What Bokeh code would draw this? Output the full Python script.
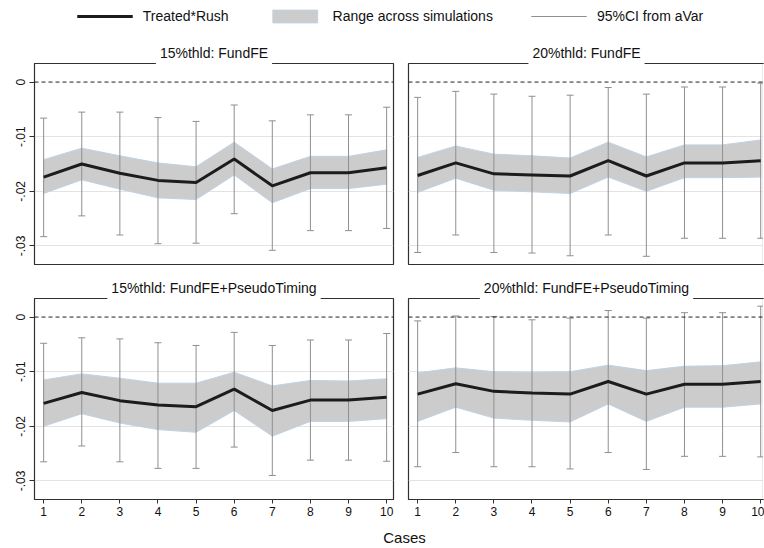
from bokeh.plotting import figure
from bokeh.layouts import column, row
from bokeh.models import (ColumnDataSource, Range1d, FixedTicker, Grid, Span,
                          Label, Legend, LegendItem, Title)
from bokeh.embed import file_html
from bokeh.resources import INLINE

# ---------------- data ----------------
cases = [1, 2, 3, 4, 5, 6, 7, 8, 9, 10]
x_tick_labels = ["1", "2", "3", "4", "5", "6", "7", "8", "9", "10"]
y_ticks = [0, -0.01, -0.02, -0.03]
y_tick_labels = ["0", "-.01", "-.02", "-.03"]
grid_ticks = [-0.01, -0.02, -0.03]
zero_ref = 0
x_axis_title = "Cases"

titles = ["15%thld: FundFE", "20%thld: FundFE",
          "15%thld: FundFE+PseudoTiming", "20%thld: FundFE+PseudoTiming"]
legend_labels = ["Treated*Rush", "Range across simulations", "95%CI from aVar"]

tl_mean = [-0.0174, -0.0150, -0.0167, -0.0180, -0.0184, -0.0141, -0.0190, -0.0166, -0.0166, -0.0157]
tl_bhi = [-0.0142, -0.0121, -0.0135, -0.0148, -0.0155, -0.0110, -0.0159, -0.0136, -0.0136, -0.0124]
tl_blo = [-0.0204, -0.0179, -0.0196, -0.0212, -0.0215, -0.0170, -0.0221, -0.0195, -0.0195, -0.0187]
tl_chi = [-0.0066, -0.0055, -0.0055, -0.0065, -0.0072, -0.0042, -0.0071, -0.0060, -0.0060, -0.0046]
tl_clo = [-0.0283, -0.0245, -0.0280, -0.0296, -0.0295, -0.0241, -0.0308, -0.0272, -0.0272, -0.0268]

tr_mean = [-0.0171, -0.0148, -0.0168, -0.0170, -0.0172, -0.0144, -0.0172, -0.0148, -0.0148, -0.0144]
tr_bhi = [-0.0138, -0.0117, -0.0132, -0.0135, -0.0139, -0.0110, -0.0137, -0.0115, -0.0115, -0.0106]
tr_blo = [-0.0202, -0.0176, -0.0198, -0.0201, -0.0204, -0.0174, -0.0200, -0.0175, -0.0175, -0.0174]
tr_chi = [-0.0028, -0.0017, -0.0022, -0.0026, -0.0024, -0.0010, -0.0022, -0.0009, -0.0009, -0.0002]
tr_clo = [-0.0312, -0.0280, -0.0312, -0.0313, -0.0318, -0.0280, -0.0319, -0.0286, -0.0286, -0.0286]

bl_mean = [-0.0158, -0.0138, -0.0153, -0.0161, -0.0164, -0.0132, -0.0171, -0.0152, -0.0152, -0.0147]
bl_bhi = [-0.0115, -0.0104, -0.0112, -0.0121, -0.0121, -0.0101, -0.0126, -0.0116, -0.0117, -0.0113]
bl_blo = [-0.0200, -0.0177, -0.0194, -0.0206, -0.0211, -0.0171, -0.0218, -0.0191, -0.0191, -0.0186]
bl_chi = [-0.0048, -0.0038, -0.0040, -0.0047, -0.0052, -0.0028, -0.0052, -0.0042, -0.0042, -0.0030]
bl_clo = [-0.0265, -0.0236, -0.0265, -0.0277, -0.0277, -0.0238, -0.0290, -0.0262, -0.0262, -0.0264]

br_mean = [-0.0141, -0.0122, -0.0136, -0.0139, -0.0141, -0.0118, -0.0141, -0.0123, -0.0123, -0.0118]
br_bhi = [-0.0102, -0.0093, -0.0100, -0.0101, -0.0100, -0.0088, -0.0098, -0.0090, -0.0089, -0.0082]
br_blo = [-0.0191, -0.0165, -0.0185, -0.0189, -0.0192, -0.0159, -0.0191, -0.0165, -0.0165, -0.0159]
br_chi = [-0.0007, 0.0002, 0.0001, -0.0005, -0.0002, 0.0012, -0.0002, 0.0008, 0.0008, 0.0020]
br_clo = [-0.0274, -0.0248, -0.0274, -0.0274, -0.0278, -0.0248, -0.0279, -0.0255, -0.0255, -0.0256]

# ---------------- styles ----------------
FONT = "Liberation Sans"
MEAN_COLOR = "#1c1c1c"
BAND_FILL = "#cccccc"
BAND_EDGE = "#bfd2e6"
CI_COLOR = "#8f8f8f"
FRAME_COLOR = "#303030"
Y_RANGE = (-0.0334, 0.0034)


def make_panel(title, mean, bhi, blo, chi, clo, left, bottom):
    x_end = 10.18 if left else 10.10
    fw = 359 if left else 356
    p = figure(frame_width=fw, frame_height=201,
               x_range=Range1d(0.76, x_end), y_range=Range1d(*Y_RANGE),
               output_backend="svg", toolbar_location=None,
               x_axis_location="below" if bottom else None,
               y_axis_location="left" if left else None,
               min_border_left=34 if left else 8,
               min_border_right=7 if left else 0,
               min_border_top=31 if not bottom else 24,
               min_border_bottom=10 if not bottom else 24)
    for g in p.grid:
        g.visible = False
    p.background_fill_color = "white"
    p.border_fill_color = "white"
    p.outline_line_color = FRAME_COLOR
    p.outline_line_width = 1.2

    p.add_layout(Grid(dimension=1, ticker=FixedTicker(ticks=grid_ticks),
                      grid_line_color="#e3e3e3", grid_line_width=1))

    src = ColumnDataSource(dict(x=cases, mean=mean, bhi=bhi, blo=blo, chi=chi, clo=clo))
    px = list(cases) + list(cases)[::-1]
    py = list(bhi) + list(blo)[::-1]
    p.patch(px, py, fill_color=BAND_FILL, line_color=BAND_EDGE, line_width=1)
    p.segment(x0="x", y0="clo", x1="x", y1="chi", source=src, line_color=CI_COLOR, line_width=1)
    p.scatter(x="x", y="chi", source=src, marker="dash", size=7, line_color=CI_COLOR, line_width=1)
    p.scatter(x="x", y="clo", source=src, marker="dash", size=7, line_color=CI_COLOR, line_width=1)
    p.add_layout(Span(location=zero_ref, dimension="width", line_color="#222222",
                      line_dash="4 3", line_width=1))
    p.line(x="x", y="mean", source=src, line_color=MEAN_COLOR, line_width=3)

    if not left:
        # the right-hand panels are cut off by the picture edge: hide their right border
        p.add_layout(Span(location=x_end, dimension="height", line_color="white",
                          line_width=3))

    if left:
        ax = p.yaxis[0]
        ax.ticker = FixedTicker(ticks=y_ticks)
        ax.major_label_overrides = {t: l for t, l in zip(y_ticks, y_tick_labels)}
        ax.major_label_orientation = "vertical"
        ax.minor_tick_line_color = None
        ax.major_tick_out = 5
        ax.major_tick_in = 0
        ax.major_label_standoff = 4
        ax.axis_line_color = FRAME_COLOR
        ax.major_tick_line_color = FRAME_COLOR
        ax.major_label_text_font = FONT
        ax.major_label_text_font_size = "12px"
        ax.major_label_text_color = "#111111"
    if bottom:
        ax = p.xaxis[0]
        ax.ticker = FixedTicker(ticks=cases)
        ax.major_label_overrides = {c: l for c, l in zip(cases, x_tick_labels)}
        ax.minor_tick_line_color = None
        ax.major_tick_out = 4
        ax.major_tick_in = 0
        ax.major_label_standoff = 3
        ax.axis_line_color = FRAME_COLOR
        ax.major_tick_line_color = FRAME_COLOR
        ax.major_label_text_font = FONT
        ax.major_label_text_font_size = "12px"
        ax.major_label_text_color = "#111111"

    t = Title(text=title, align="center", standoff=-3, padding=4,
              text_font=FONT, text_font_size="14px", text_color="#111111",
              text_font_style="normal", background_fill_color="white")
    p.add_layout(t, "above")
    return p


tl = make_panel(titles[0], tl_mean, tl_bhi, tl_blo, tl_chi, tl_clo, True, False)
tr = make_panel(titles[1], tr_mean, tr_bhi, tr_blo, tr_chi, tr_clo, False, False)
bl = make_panel(titles[2], bl_mean, bl_bhi, bl_blo, bl_chi, bl_clo, True, True)
br = make_panel(titles[3], br_mean, br_bhi, br_blo, br_chi, br_clo, False, True)

# ---------------- legend strip ----------------
leg = figure(width=764, height=32, x_range=Range1d(0, 1), y_range=Range1d(0, 1),
             output_backend="svg", toolbar_location=None, min_border=0,
             min_border_left=16, x_axis_location=None, y_axis_location=None)
for g in leg.grid:
    g.visible = False
leg.outline_line_color = None
off = [5, 6]  # dummy points outside the visible range (legend glyphs only)
r1 = leg.line(x=off, y=off, line_color=MEAN_COLOR, line_width=3)
r2 = leg.patch(x=[5, 6, 6], y=[5, 5, 6], fill_color=BAND_FILL, line_color=BAND_EDGE, line_width=1)
r3 = leg.segment(x0=[5], y0=[5], x1=[6], y1=[6], line_color=CI_COLOR, line_width=1)
legend = Legend(items=[LegendItem(label=legend_labels[0], renderers=[r1]),
                       LegendItem(label=legend_labels[1], renderers=[r2]),
                       LegendItem(label=legend_labels[2], renderers=[r3])],
                orientation="horizontal", location="center",
                glyph_width=56, glyph_height=16, label_standoff=10, spacing=38,
                padding=0, margin=0, background_fill_alpha=0, border_line_color=None,
                label_text_font=FONT, label_text_font_size="14px",
                label_text_color="#111111")
leg.add_layout(legend, "center")

# ---------------- x-axis title strip ----------------
cf = figure(width=764, height=25, x_range=Range1d(0, 1), y_range=Range1d(0, 1),
            output_backend="svg", toolbar_location=None, min_border=0,
            x_axis_location=None, y_axis_location=None)
for g in cf.grid:
    g.visible = False
cf.outline_line_color = None
cf.add_layout(Label(x=388, y=11, x_units="screen", y_units="screen", text=x_axis_title,
                    text_align="center", text_baseline="middle",
                    text_font=FONT, text_font_size="15px", text_color="#111111"))

layout = column(leg, row(tl, tr), row(bl, br), cf)
open("out.html", "w").write(file_html(layout, INLINE))
